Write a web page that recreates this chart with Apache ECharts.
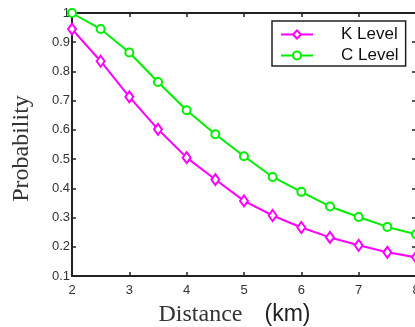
<!DOCTYPE html>
<html><head><meta charset="utf-8">
<script src="https://cdn.jsdelivr.net/npm/echarts@6/dist/echarts.min.js"></script>
<style>html,body{margin:0;padding:0;background:#fff}#c{width:415px;height:327px}</style>
</head><body><div id="c"></div>
<script>
const distances = [2, 2.5, 3, 3.5, 4, 4.5, 5, 5.5, 6, 6.5, 7, 7.5, 8];
const kLevel = [0.945, 0.835, 0.713, 0.602, 0.505, 0.43, 0.357, 0.307, 0.266, 0.232, 0.205, 0.181, 0.164];
const cLevel = [1.0, 0.945, 0.865, 0.764, 0.667, 0.585, 0.51, 0.439, 0.388, 0.338, 0.302, 0.268, 0.243];
const seriesNames = ['K Level', 'C Level'];

const chart = echarts.init(document.getElementById('c'));
const axisLine = {show: true, lineStyle: {color: '#222', width: 2}};
const tickIn = {show: true, inside: true, length: 4, lineStyle: {color: '#222', width: 1.5}};
const lbl = {color: '#333', fontSize: 13, fontFamily: 'Liberation Sans, Arial'};
chart.setOption({
  animation: false,
  grid: {left: 72, top: 13, width: 344, bottom: 51, outerBoundsMode: 'none', containLabel: false},
  legend: {
    left: 272, top: 21, orient: 'vertical',
    data: seriesNames,
    borderColor: '#222', borderWidth: 1.5,
    padding: [5, 7, 2, 8], itemGap: 4,
    itemWidth: 32, itemHeight: 10,
    textStyle: {fontSize: 17, fontFamily: 'Liberation Sans, Arial', color: '#111', padding: [0, 0, 0, 23]}
  },
  xAxis: [{
    type: 'value', min: 2, max: 8, interval: 1,
    axisLine: axisLine, axisTick: tickIn, splitLine: {show: false},
    axisLabel: Object.assign({margin: 8}, lbl),
    name: '{a|Distance}{b|(km)}', nameLocation: 'middle', nameGap: 27,
    nameTextStyle: {padding: [0, 19, 0, 0], rich: {
      a: {fontFamily: 'Liberation Serif, Times New Roman', fontSize: 24, color: '#333'},
      b: {fontFamily: 'Liberation Sans, Arial', fontSize: 23, color: '#222', padding: [0, 0, 0, 22]}
    }}
  }, {
    type: 'value', position: 'top', min: 2, max: 8, interval: 1,
    axisLine: axisLine, axisTick: tickIn, splitLine: {show: false}, axisLabel: {show: false}
  }],
  yAxis: [{
    type: 'value', min: 0.1, max: 1, interval: 0.1,
    axisLine: axisLine, axisTick: tickIn, splitLine: {show: false},
    axisLabel: Object.assign({margin: 2, formatter: v => String(+v.toFixed(1))}, lbl),
    name: 'Probability', nameLocation: 'middle', nameGap: 38,
    nameTextStyle: {fontFamily: 'Liberation Serif, Times New Roman', fontSize: 24, color: '#333', padding: [0, 8, 0, 0]}
  }, {
    type: 'value', position: 'right', min: 0.1, max: 1, interval: 0.1,
    axisLine: axisLine, axisTick: tickIn, splitLine: {show: false}, axisLabel: {show: false}
  }],
  series: [{
    name: seriesNames[0], type: 'line',
    data: distances.map((d, i) => [d, kLevel[i]]),
    symbol: 'emptyDiamond', symbolSize: [8, 11], showAllSymbol: true,
    itemStyle: {color: '#ff00ff', borderColor: '#ff00ff', borderWidth: 1.5},
    lineStyle: {color: '#ff00ff', width: 2}
  }, {
    name: seriesNames[1], type: 'line',
    data: distances.map((d, i) => [d, cLevel[i]]),
    symbol: 'emptyCircle', symbolSize: 8, showAllSymbol: true,
    itemStyle: {color: '#00ee00', borderColor: '#00ee00', borderWidth: 1.5},
    lineStyle: {color: '#00ee00', width: 2}
  }]
});
</script></body></html>
